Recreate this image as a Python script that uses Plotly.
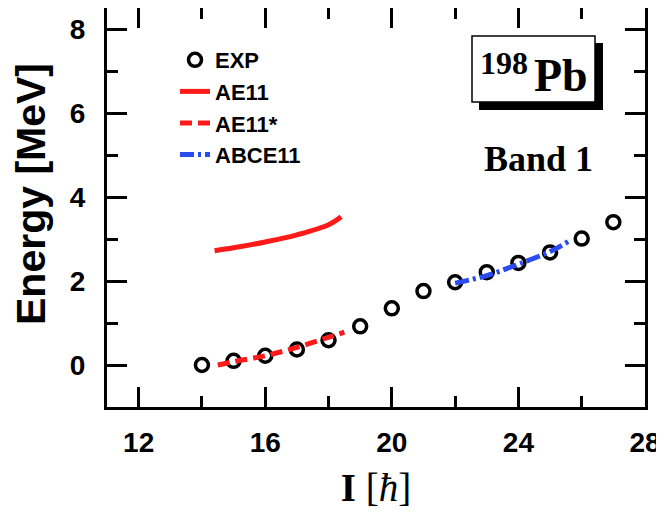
import plotly.graph_objects as go

# experimental band 1 of 198Pb
spin_exp = [14, 15, 16, 17, 18, 19, 20, 21, 22, 23, 24, 25, 26, 27]
energy_exp = [0.0, 0.10, 0.22, 0.37, 0.59, 0.92, 1.35, 1.76, 1.97, 2.21, 2.43, 2.68, 3.01, 3.40]

# AE11 (solid)
spin_ae11 = [14.4, 15, 16, 17, 18, 18.4]
energy_ae11 = [2.72, 2.79, 2.93, 3.10, 3.34, 3.53]

# AE11* (dashed)
spin_ae11s = [14.5, 15, 16, 17, 18, 18.5]
energy_ae11s = [0.0, 0.08, 0.22, 0.42, 0.66, 0.78]

# ABCE11 (dash-dot)
spin_abce = [22, 23, 24, 25, 25.6]
energy_abce = [1.95, 2.13, 2.40, 2.70, 2.95]

x_ticks = [12, 16, 20, 24, 28]
y_ticks = [0, 2, 4, 6, 8]


# the page body has an 8px margin, plot frame sits at 107..645 x 8..407 on screen
def px(x):
    return (x - 107) / 538.0


def py(y):
    return (407 - y) / 399.0


fig = go.Figure()
fig.add_trace(go.Scatter(x=spin_exp, y=energy_exp, mode='markers', name='EXP',
                         marker=dict(symbol='circle-open', size=13, color='black',
                                     line=dict(width=3.5, color='black'))))
fig.add_trace(go.Scatter(x=spin_ae11, y=energy_ae11, mode='lines', name='AE11',
                         line=dict(color='#ff1a1a', width=5, shape='spline')))
fig.add_trace(go.Scatter(x=spin_ae11s, y=energy_ae11s, mode='lines', name='AE11*',
                         line=dict(color='#ff1a1a', width=5, dash='12px,6px', shape='spline')))
fig.add_trace(go.Scatter(x=spin_abce, y=energy_abce, mode='lines', name='ABCE11',
                         line=dict(color='#2a4cf0', width=5, dash='14px,4px,3px,4px',
                                   shape='spline')))

axis_common = dict(showline=True, linewidth=3, linecolor='black', mirror='ticks',
                   ticks='inside', ticklen=20, tickwidth=3, tickcolor='black',
                   showgrid=False, zeroline=False, automargin=False,
                   tickfont=dict(family='Liberation Sans', size=28, color='black',
                                 weight='bold'))

fig.update_xaxes(range=[11, 28], tickvals=x_ticks, ticklabelstandoff=8,
                 minor=dict(dtick=2, tick0=12, ticks='inside', ticklen=11, tickwidth=3,
                            tickcolor='black'),
                 title=dict(text='<b>I</b> [<i>ħ</i>]', standoff=18,
                            font=dict(family='Liberation Serif', size=39, color='black')),
                 **axis_common)
fig.update_yaxes(range=[-1, 8.5], tickvals=y_ticks, ticklabelstandoff=13,
                 minor=dict(dtick=1, tick0=0, ticks='inside', ticklen=11, tickwidth=3,
                            tickcolor='black'),
                 **axis_common)

# y title placed by hand (sits a bit above the frame centre in the original)
fig.add_annotation(xref='paper', yref='paper', x=px(31), y=py(194), showarrow=False,
                   xanchor='center', yanchor='middle', textangle=-90,
                   text='<b>Energy [MeV]</b>',
                   font=dict(family='Liberation Sans', size=41, color='black'))

# nucleus label box with shadow
fig.add_shape(type='rect', xref='paper', yref='paper', x0=px(479), x1=px(603),
              y0=py(110), y1=py(43), fillcolor='black', line=dict(width=0), layer='above')
fig.add_shape(type='rect', xref='paper', yref='paper', x0=px(472), x1=px(595),
              y0=py(102), y1=py(36), fillcolor='white', line=dict(width=1.5, color='black'),
              layer='above')
fig.add_annotation(xref='paper', yref='paper', x=px(561), y=py(75), showarrow=False,
                   xanchor='center', yanchor='middle', text='<b>Pb</b>',
                   font=dict(family='Liberation Serif', size=46, color='black'))
fig.add_annotation(xref='paper', yref='paper', x=px(504), y=py(63), showarrow=False,
                   xanchor='center', yanchor='middle', text='<b>198</b>',
                   font=dict(family='Liberation Serif', size=32, color='black'))
fig.add_annotation(xref='paper', yref='paper', x=px(538), y=py(159), showarrow=False,
                   xanchor='center', yanchor='middle', text='<b>Band 1</b>',
                   font=dict(family='Liberation Serif', size=36, color='black'))

fig.update_layout(width=656, height=514, plot_bgcolor='white', paper_bgcolor='white',
                  margin=dict(l=99, r=19, t=0, b=115),
                  legend=dict(x=px(175), y=py(39), xanchor='left', yanchor='top',
                              bgcolor='rgba(0,0,0,0)',
                              font=dict(family='Liberation Sans', size=22, color='black',
                                        weight='bold')),
                  font=dict(family='Liberation Sans', color='black'))

fig.write_html("out.html")
